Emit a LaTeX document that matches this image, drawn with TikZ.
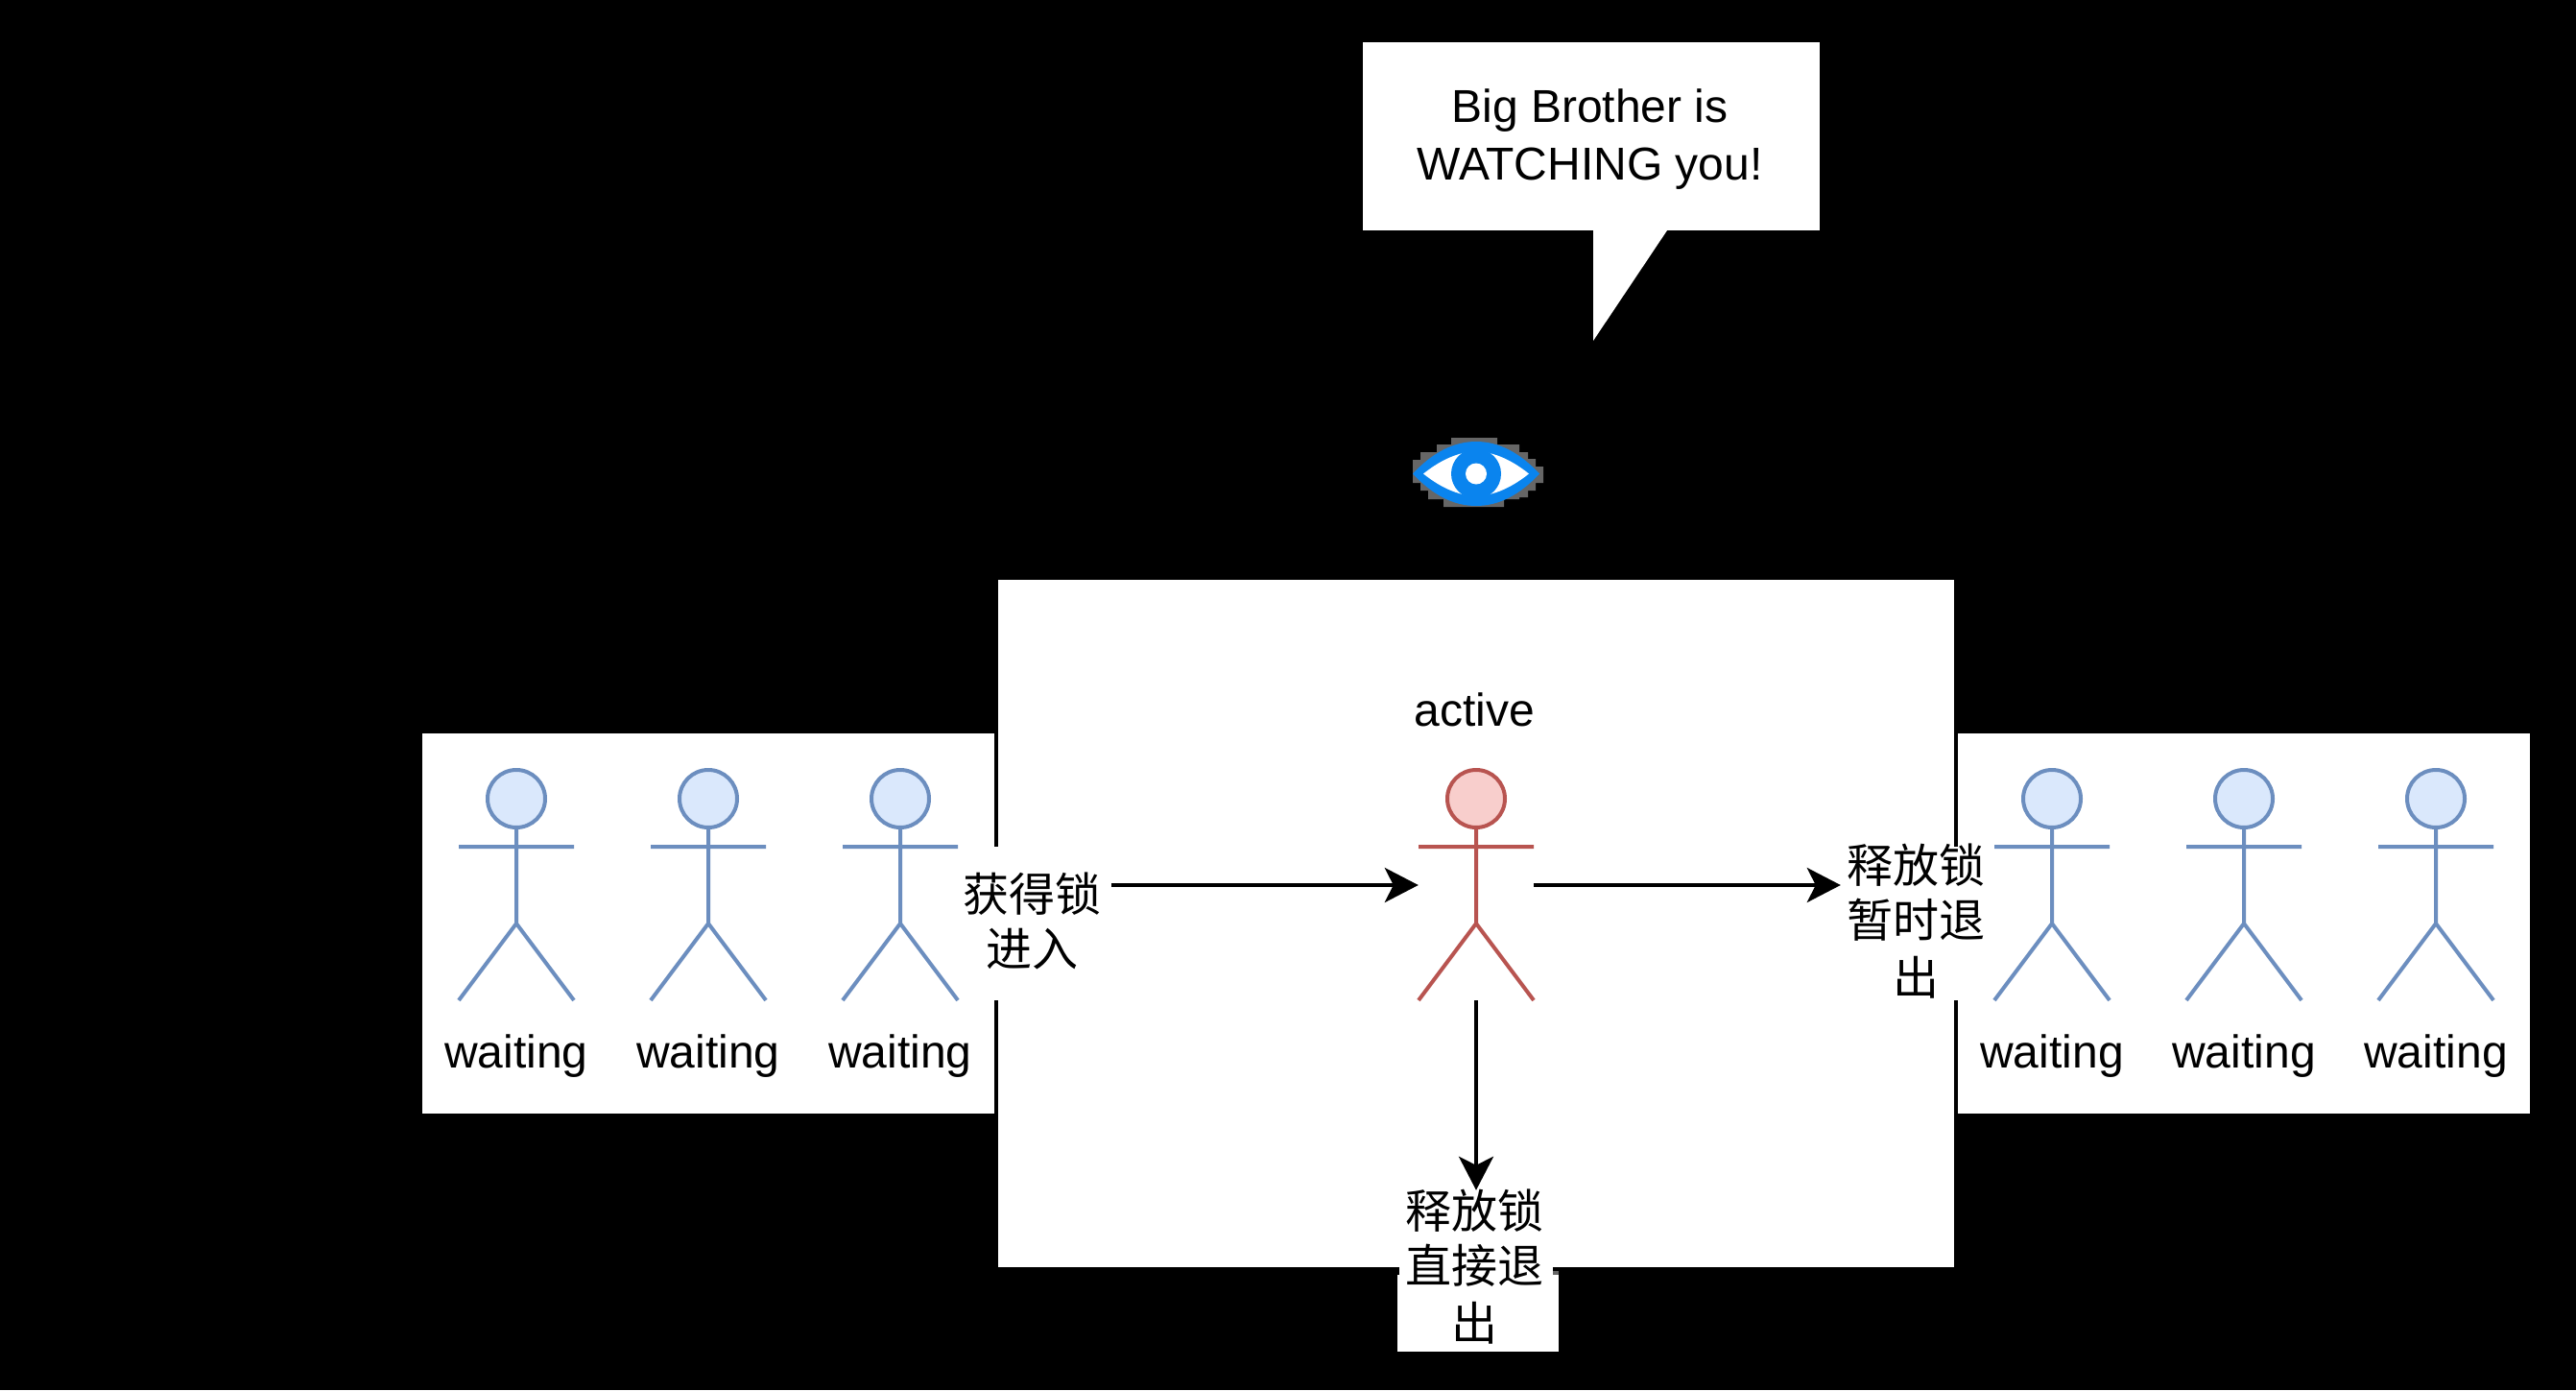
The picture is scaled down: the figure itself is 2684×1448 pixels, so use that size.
\documentclass[tikz,border=0pt]{standalone}
\usepackage{fontspec}
\usetikzlibrary{arrows.meta}
\setmainfont{Liberation Sans}
\newfontfamily\cjk{Noto Sans CJK SC}
\definecolor{actblue}{HTML}{6C8EBF}
\definecolor{actbluefill}{HTML}{DAE8FC}
\definecolor{actred}{HTML}{B85450}
\definecolor{actredfill}{HTML}{F8CECC}
\definecolor{eyeblue}{HTML}{0A84EE}
\definecolor{eyehalo}{HTML}{666666}
\tikzset{
  panel/.style={draw=black,line width=4pt,fill=white,inner sep=0pt},
  holder/.style={inner sep=0pt,minimum width=120pt,minimum height=240pt},
  limb/.style={line width=4pt,line cap=butt},
  caption/.style={inner sep=0pt,anchor=base,font=\fontsize{48}{60}\selectfont},
  gate/.style={fill=white,inner sep=0pt,minimum width=160pt,minimum height=160pt},
  gatetext/.style={inner sep=0pt,align=center,font=\fontsize{48}{60}\selectfont\cjk},
  flow/.style={line width=4pt,-{Stealth[length=35pt,width=36pt,inset=9pt]}}
}
\newcommand{\stickman}[3]{%
  \begin{scope}[shift={(#1.center)}]
    \draw[limb,draw=#2,fill=#3] (0,-90) circle[radius=30];
    \draw[limb,draw=#2] (0,-60) -- (0,40) (-60,-40) -- (60,-40) (-60,120) -- (0,40) -- (60,120);
  \end{scope}}
\begin{document}
\begin{tikzpicture}[x=1pt,y=-1pt]
\useasboundingbox (0,0) rectangle (2684,1448);
\fill[black] (0,0) rectangle (2684,1448);
% panels
\node[panel,minimum width=600pt,minimum height=400pt] (leftpanel) at (738,962) {};
\node[panel,minimum width=600pt,minimum height=400pt] (rightpanel) at (2338,962) {};
\node[panel,minimum width=1000pt,minimum height=720pt] (mainpanel) at (1538,962) {};
% speech bubble
\coordinate (tailtip) at (1660,355);
\fill[white] (1660,240) -- (tailtip) -- (1737,240) -- cycle;
\node[fill=white,inner sep=0pt,minimum width=476pt,minimum height=196pt] (bubble) at (1658,142) {};
\node[caption] (bubblea) at (1656.5,127.5) {Big Brother is};
\node[caption] (bubbleb) at (1656.5,187.5) {WATCHING you!};
% eye
\fill[eyehalo] (1512,456) -- (1560,456) -- (1560,463) -- (1583,463) -- (1583,471) -- (1592,471) -- (1592,478) -- (1600,478) -- (1600,486) -- (1608,486) -- (1608,503) -- (1600,503) -- (1600,511) -- (1592,511) -- (1592,518) -- (1583,518) -- (1583,520) -- (1567,520) -- (1567,528) -- (1504,528) -- (1504,520) -- (1488,520) -- (1488,511) -- (1480,511) -- (1480,503) -- (1472,503) -- (1472,479) -- (1480,479) -- (1480,471) -- (1497,471) -- (1497,463) -- (1512,463) -- cycle;
\fill[eyeblue] (1472,493.5) .. controls (1492,472) and (1514,460) .. (1538,460) .. controls (1562,460) and (1584,472) .. (1604,493.5) .. controls (1584,515) and (1562,527) .. (1538,527) .. controls (1514,527) and (1492,515) .. (1472,493.5) -- cycle;
\fill[white] (1483,493.5) .. controls (1500,480) and (1518,471) .. (1538,470) .. controls (1558,471) and (1576,480) .. (1593,493.5) .. controls (1576,507) and (1558,516) .. (1538,517) .. controls (1518,516) and (1500,507) .. (1483,493.5) -- cycle;
\fill[eyeblue] (1538,493.5) circle[radius=26];
\fill[white] (1538,493.5) circle[radius=11];
% actors
\node[holder] (w1) at (538,922) {};
\node[holder] (w2) at (738,922) {};
\node[holder] (w3) at (938,922) {};
\node[holder] (act) at (1538,922) {};
\node[holder] (w4) at (2138,922) {};
\node[holder] (w5) at (2338,922) {};
\node[holder] (w6) at (2538,922) {};
% gates
\fill[white] (1456,1328) rectangle (1624,1408);
\fill[eyehalo] (1618,1324) rectangle (1624,1328);
\node[gate] (enter) at (1078,962) {};
\node[gate] (pause) at (1998,962) {};
\node[gate,minimum height=168pt] (leave) at (1538,1324) {};
\node[gatetext,xshift=-2.5pt,yshift=2.5pt] (entertext) at (enter) {获得锁\\[-3pt]进入};
\node[gatetext,xshift=-1.7pt,yshift=2.3pt] (pausetext) at (pause) {释放锁\\[-3pt]暂时退\\出};
\node[gatetext,xshift=-1.7pt,yshift=4.3pt] (leavetext) at (leave) {释放锁\\[-3pt]直接退\\出};
% figures
\stickman{w1}{actblue}{actbluefill}
\stickman{w2}{actblue}{actbluefill}
\stickman{w3}{actblue}{actbluefill}
\stickman{act}{actred}{actredfill}
\stickman{w4}{actblue}{actbluefill}
\stickman{w5}{actblue}{actbluefill}
\stickman{w6}{actblue}{actbluefill}
% captions
\node[caption] (t1) at (538,1112) {waiting};
\node[caption] (t2) at (738,1112) {waiting};
\node[caption] (t3) at (938,1112) {waiting};
\node[caption] (t4) at (2138,1112) {waiting};
\node[caption] (t5) at (2338,1112) {waiting};
\node[caption] (t6) at (2538,1112) {waiting};
\node[caption] (t7) at (1536,756) {active};
% connectors
\draw[flow] (enter.east |- act.west) -- (act.west);
\draw[flow] (act.east) -- (pause.west |- act.east);
\draw[flow] (act.south) -- (leave.north);
\end{tikzpicture}
\end{document}
